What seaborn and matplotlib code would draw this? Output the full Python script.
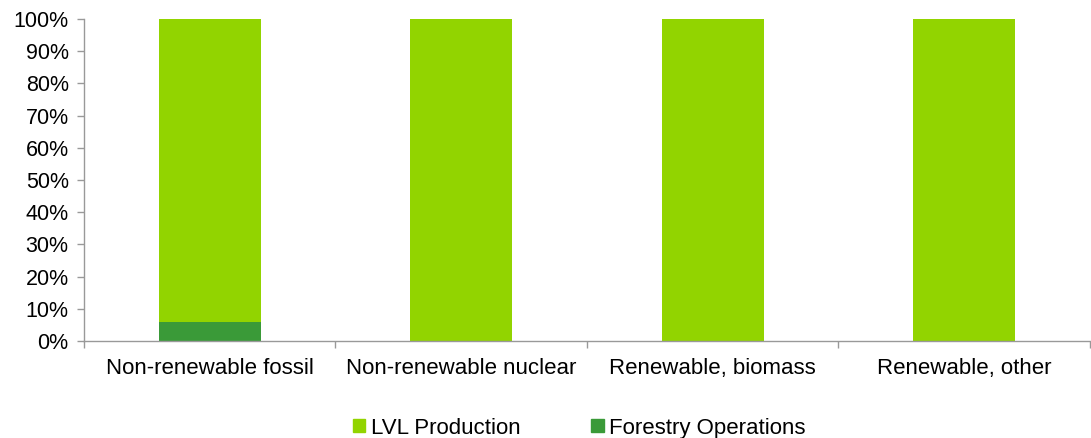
import matplotlib.pyplot as plt
import seaborn as sns
import pandas as pd
import numpy as np
from matplotlib.patches import Patch

categories = ['Non-renewable fossil', 'Non-renewable nuclear', 'Renewable, biomass', 'Renewable, other']
forestry = [6, 0, 0, 0]
lvl = [94, 100, 100, 100]

LVL_COLOR = '#92D400'
FOREST_COLOR = '#3A9A38'

sns.set_style('white')
plt.rcParams['font.family'] = ['Liberation Sans', 'DejaVu Sans']
plt.rcParams['text.color'] = 'black'
plt.rcParams['xtick.color'] = 'black'
plt.rcParams['ytick.color'] = 'black'

df = pd.DataFrame({'category': categories, 'forestry': forestry, 'lvl': lvl})
df['total'] = df['forestry'] + df['lvl']

fig = plt.figure(figsize=(10.91, 4.38), dpi=100)
ax = fig.add_axes([0.077, 0.2215, 0.922, 0.735])

sns.barplot(data=df, x='category', y='total', color=LVL_COLOR, width=0.405,
            saturation=1, linewidth=0, ax=ax)
sns.barplot(data=df, x='category', y='forestry', color=FOREST_COLOR, width=0.405,
            saturation=1, linewidth=0, ax=ax)

ax.set_xlim(-0.5, len(categories) - 0.5)
ax.set_ylim(0, 100)
ax.set_yticks(np.arange(0, 101, 10))
ax.set_yticklabels([f'{v}%' for v in range(0, 101, 10)], fontsize=15.5)
ax.set_xticks(range(len(categories)))
ax.set_xticklabels(categories, fontsize=16)
ax.set_xlabel('')
ax.set_ylabel('')

# category boundary ticks like Excel
ax.set_xticks(np.arange(-0.5, len(categories), 1), minor=True)
ax.tick_params(axis='x', which='major', bottom=True, length=0, pad=12, labelcolor='black')
ax.tick_params(axis='x', which='minor', bottom=True, length=5, color='#999999', width=1)
ax.tick_params(axis='y', left=True, length=5, color='#999999', width=1, pad=6, labelcolor='black')

for s in ['top', 'right']:
    ax.spines[s].set_visible(False)
for s in ['left', 'bottom']:
    ax.spines[s].set_color('#999999')
    ax.spines[s].set_linewidth(1)

handles = [Patch(color=LVL_COLOR, label='LVL Production'),
           Patch(color=FOREST_COLOR, label='Forestry Operations')]
fig.legend(handles=handles, loc='lower center', bbox_to_anchor=(0.531, -0.047), ncol=2,
           frameon=False, fontsize=16, handlelength=0.55, handleheight=0.55,
           handletextpad=0.25, columnspacing=3.2)

plt.savefig('out.png', dpi=100)
plt.close()
